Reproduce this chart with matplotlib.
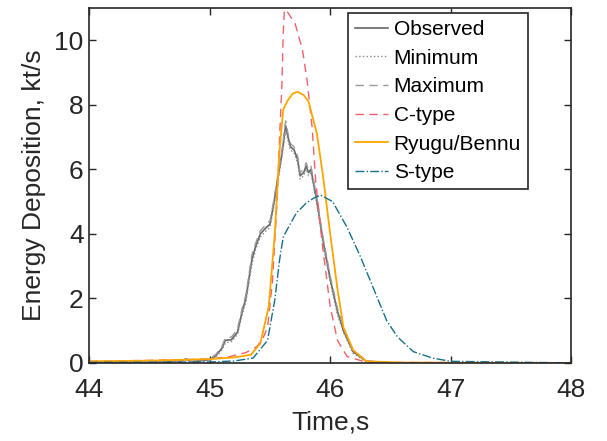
import numpy as np
import matplotlib.pyplot as plt

plt.rcParams['font.family'] = ['Liberation Sans', 'DejaVu Sans']

# observed light curve, kt/s
t_obs = [44.0, 44.5, 44.75, 44.8, 44.85, 44.9, 45.0, 45.05, 45.1, 45.13, 45.18, 45.23, 45.27,
         45.3, 45.35, 45.38, 45.42, 45.47, 45.5, 45.53, 45.56, 45.6, 45.63, 45.65, 45.67,
         45.7, 45.73, 45.75, 45.78, 45.8, 45.82, 45.84, 45.86, 45.89, 45.94, 46.0, 46.06,
         46.11, 46.19, 46.3, 46.5, 48.0]
e_obs = [0.0, 0.02, 0.05, 0.12, 0.04, 0.06, 0.1, 0.22, 0.45, 0.7, 0.72, 0.95, 1.6,
         2.0, 3.2, 3.6, 4.0, 4.2, 4.3, 4.9, 5.6, 6.5, 7.35, 7.0, 6.7,
         6.6, 6.3, 5.8, 5.9, 6.1, 5.9, 6.0, 5.6, 5.0, 3.8, 2.6, 1.6,
         1.0, 0.35, 0.05, 0.0, 0.0]
e_min = [0.0, 0.01, 0.04, 0.1, 0.03, 0.05, 0.08, 0.18, 0.4, 0.62, 0.66, 0.88, 1.5,
         1.9, 3.05, 3.5, 3.9, 4.1, 4.2, 4.8, 5.5, 6.4, 7.2, 6.9, 6.6,
         6.5, 6.2, 5.7, 5.8, 6.0, 5.8, 5.9, 5.5, 4.9, 3.7, 2.5, 1.5,
         0.95, 0.3, 0.04, 0.0, 0.0]
e_max = [0.0, 0.03, 0.06, 0.14, 0.05, 0.08, 0.13, 0.26, 0.5, 0.78, 0.8, 1.05, 1.7,
         2.1, 3.35, 3.7, 4.1, 4.3, 4.4, 5.0, 5.7, 6.6, 7.5, 7.1, 6.8,
         6.7, 6.4, 5.9, 6.0, 6.2, 6.0, 6.1, 5.7, 5.1, 3.9, 2.7, 1.7,
         1.1, 0.4, 0.07, 0.0, 0.0]

# C-type model
t_c = [44.0, 44.5, 45.0, 45.17, 45.3, 45.39, 45.44, 45.48, 45.52, 45.56, 45.58, 45.6,
       45.61, 45.62, 45.65, 45.71, 45.77, 45.81, 45.85, 45.88, 45.94, 46.0, 46.06, 46.14,
       46.3, 48.0]
e_c = [0.05, 0.08, 0.12, 0.2, 0.32, 0.5, 0.75, 1.1, 2.5, 5.1, 7.0, 8.7,
       10.2, 10.95, 10.85, 10.5, 9.7, 8.7, 7.3, 5.6, 3.5, 1.75, 0.7, 0.2,
       0.02, 0.0]

# Ryugu/Bennu model
t_rb = [44.0, 44.5, 45.0, 45.2, 45.34, 45.42, 45.49, 45.54, 45.58, 45.61, 45.65, 45.69,
        45.73, 45.78, 45.82, 45.89, 45.94, 46.0, 46.06, 46.11, 46.19, 46.3, 46.6, 48.0]
e_rb = [0.05, 0.07, 0.12, 0.17, 0.25, 0.6, 1.75, 4.0, 6.6, 7.85, 8.15, 8.35,
        8.4, 8.3, 8.1, 7.1, 5.8, 4.0, 2.3, 1.1, 0.4, 0.05, 0.01, 0.0]

# S-type model
t_s = [44.0, 44.5, 45.0, 45.2, 45.36, 45.48, 45.54, 45.58, 45.61, 45.66, 45.72, 45.8,
       45.86, 45.92, 46.02, 46.14, 46.25, 46.36, 46.47, 46.56, 46.69, 46.85, 47.0, 48.0]
e_s = [0.02, 0.02, 0.03, 0.06, 0.15, 0.7, 1.95, 3.2, 3.9, 4.25, 4.65, 4.95,
       5.1, 5.2, 5.0, 4.2, 3.3, 2.3, 1.3, 0.8, 0.35, 0.15, 0.05, 0.0]

fig = plt.figure(figsize=(6.07, 4.41), dpi=100)
ax = fig.add_axes([0.147, 0.177, 0.794, 0.805])

ax.plot(t_obs, e_obs, '-', color='#666666', lw=1.2, label='Observed')
ax.plot(t_obs, e_min, ':', color='#888888', lw=1.0, label='Minimum')
ax.plot(t_obs, e_max, '--', color='#999999', lw=1.0, dashes=(6, 4), label='Maximum')
ax.plot(t_c, e_c, '--', color='#f0606a', lw=1.0, dashes=(6, 4), label='C-type')
ax.plot(t_rb, e_rb, '-', color='#ffa500', lw=1.3, label='Ryugu/Bennu')
ax.plot(t_s, e_s, '-.', color='#176f8c', lw=1.0, label='S-type')

ax.set_xlim(44, 48)
ax.set_ylim(0, 11)
ax.set_xticks([44, 45, 46, 47, 48])
ax.set_yticks([0, 2, 4, 6, 8, 10])
ax.tick_params(direction='in', top=True, right=True, labelsize=19, length=5, width=1,
               colors='#262626')
ax.tick_params(axis='x', pad=11)
ax.tick_params(axis='y', pad=4)
for s in ax.spines.values():
    s.set_linewidth(1.2)
    s.set_color('#262626')
ax.set_xlabel('Time,s', fontsize=19, color='#262626', labelpad=6)
ax.set_ylabel('Energy Deposition, kt/s', fontsize=19, color='#262626', labelpad=6)

leg = ax.legend(loc='upper right', bbox_to_anchor=(0.911, 0.986), fontsize=15,
                fancybox=False, framealpha=1, edgecolor='#262626', handlelength=1.6,
                handletextpad=0.25, labelspacing=0.46, borderpad=0.35, borderaxespad=0)
leg.get_frame().set_linewidth(1.2)

plt.savefig('out.png', dpi=100)
